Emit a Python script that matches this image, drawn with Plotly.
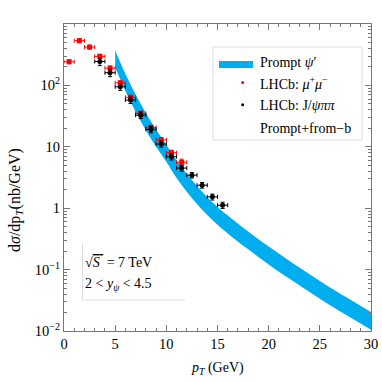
import plotly.graph_objects as go

# ---------------------------------------------------------------------------
# Data
# ---------------------------------------------------------------------------

# theory band (prompt psi'), upper / lower edges
band_pt = [5, 6, 7, 8, 9, 10, 11, 12, 13, 14, 15, 16, 18, 20, 22, 24, 26, 28, 30]
band_hi = [371, 155, 70.8, 35.5, 19.0, 10.8, 6.03, 3.63, 2.29, 1.51, 1.05, 0.759,
           0.417, 0.237, 0.140, 0.0841, 0.0513, 0.0324, 0.0204]
band_lo = [195, 81.3, 37.2, 18.6, 10.0, 5.69, 3.09, 1.86, 1.175, 0.776, 0.537, 0.389,
           0.214, 0.1216, 0.0716, 0.0432, 0.0263, 0.0166, 0.0105]

# LHCb mu+mu- (red)
mumu_pt = [0.5, 1.5, 2.5, 3.5, 4.5, 5.5, 6.5, 7.5, 8.5, 9.5, 10.5, 11.5]
mumu_val = [243, 535, 421, 297, 191, 110, 64, 35, 20.7, 12.9, 8.0, 5.6]
mumu_err = [18, 40, 30, 25, 16, 9, 5, 3, 1.8, 1.2, 0.8, 0.7]

# LHCb J/psi pi pi (black)
jpsi_pt = [3.5, 4.5, 5.5, 6.5, 7.5, 8.5, 9.5, 10.5, 11.5, 12.5, 13.5, 14.5, 15.5]
jpsi_val = [245, 161, 95, 57.7, 32.8, 19.2, 11.1, 6.9, 4.5, 3.45, 2.37, 1.53, 1.12]
jpsi_err = [35, 22, 12, 7, 4, 2.3, 1.3, 0.8, 0.5, 0.35, 0.25, 0.17, 0.13]
bin_half = 0.5

y_ticks = [0.01, 0.1, 1, 10, 100]
y_ticktext = ["10<sup>−2</sup>", "10<sup>−1</sup>", "1", "10", "10<sup>2</sup>"]

BLUE = "#00AEEF"
AXIS = "#777777"
FONT = "Liberation Serif, Times New Roman, serif"

# ---------------------------------------------------------------------------
# Figure
# ---------------------------------------------------------------------------

fig = go.Figure()

fig.add_trace(go.Scatter(x=band_pt, y=band_hi, mode="lines", line={"width": 0, "shape": "spline"},
                         showlegend=False, hoverinfo="skip"))
fig.add_trace(go.Scatter(x=band_pt, y=band_lo, mode="lines", line={"width": 0, "shape": "spline"},
                         fill="tonexty", fillcolor=BLUE, showlegend=False))

fig.add_trace(go.Scatter(
    x=mumu_pt, y=mumu_val, mode="markers", showlegend=False,
    marker={"color": "red", "size": 5, "symbol": "square"},
    error_x={"type": "constant", "value": bin_half, "color": "red", "thickness": 1, "width": 2},
    error_y={"type": "data", "array": mumu_err, "color": "red", "thickness": 1, "width": 2},
))
fig.add_trace(go.Scatter(
    x=jpsi_pt, y=jpsi_val, mode="markers", showlegend=False,
    marker={"color": "black", "size": 5},
    error_x={"type": "constant", "value": bin_half, "color": "black", "thickness": 1, "width": 2},
    error_y={"type": "data", "array": jpsi_err, "color": "black", "thickness": 1, "width": 2},
))

# minor ticks on the log axis
y_minor = [m * 10 ** e for e in range(-2, 3) for m in range(2, 10)]

fig.update_xaxes(
    range=[0, 30], tickvals=[0, 5, 10, 15, 20, 25, 30], automargin=False,
    ticks="inside", ticklen=6, tickcolor=AXIS, showline=True, linecolor=AXIS,
    mirror="allticks", showgrid=False, zeroline=False,
    minor={"tickvals": list(range(31)), "ticks": "inside", "ticklen": 3, "tickcolor": AXIS},
    tickfont={"size": 14.5},
)
fig.update_yaxes(
    type="log", range=[-2, 3], tickvals=y_ticks, ticktext=y_ticktext, automargin=False,
    ticks="inside", ticklen=6, tickcolor=AXIS, showline=True, linecolor=AXIS,
    mirror="allticks", showgrid=False, zeroline=False,
    minor={"tickvals": y_minor, "ticks": "inside", "ticklen": 3, "tickcolor": AXIS},
    tickfont={"size": 14.5},
)


# helpers map screen pixels to paper coords
def px(x):
    return (x - 64) / 307


def py(y):
    return (331 - y) / 307


shapes = [
    # legend frame
    dict(type="rect", xref="paper", yref="paper", x0=px(213), x1=px(362), y0=py(140), y1=py(47),
         line={"color": "#dddddd", "width": 1}, fillcolor="white"),
    dict(type="rect", xref="paper", yref="paper", x0=px(219), x1=px(253), y0=py(68), y1=py(61),
         line={"width": 0}, fillcolor=BLUE),
    dict(type="circle", xref="paper", yref="paper", x0=px(241.2), x1=px(244.2), y0=py(84), y1=py(81),
         line={"width": 0}, fillcolor="red"),
    dict(type="circle", xref="paper", yref="paper", x0=px(241.2), x1=px(244.2), y0=py(106.3), y1=py(103.3),
         line={"width": 0}, fillcolor="black"),
    # lower-left info box (left + bottom edges)
    dict(type="line", xref="paper", yref="paper", x0=px(82.5), x1=px(82.5), y0=py(243), y1=py(300),
         line={"color": "#dddddd", "width": 1}),
    dict(type="line", xref="paper", yref="paper", x0=px(82.5), x1=px(185), y0=py(300), y1=py(300),
         line={"color": "#dddddd", "width": 1}),
]

texts = [
    (258, 62, "Prompt <i>ψ</i>′"),
    (258, 83, "LHCb: <i>μ</i><sup>+</sup><i>μ</i><sup>−</sup>"),
    (258, 105, "LHCb: J/<i>ψππ</i>"),
    (258, 128, "Prompt+from−b"),
    (83, 262, "√<span style=\"text-decoration:overline\"><i>S</i> </span> = 7 TeV"),
    (83, 284, "2 &lt; <i>y<sub>ψ</sub></i> &lt; 4.5"),
]
annotations = [
    dict(x=px(x), y=py(y), xref="paper", yref="paper", text=t, showarrow=False,
         xanchor="left", yanchor="middle", font={"size": 14})
    for x, y, t in texts
]
# axis titles
annotations.append(dict(x=px(217.5), y=py(368), xref="paper", yref="paper",
                        text="<i>p<sub>T</sub></i> (GeV)", showarrow=False,
                        xanchor="center", yanchor="middle", font={"size": 14}))
annotations.append(dict(x=px(15), y=py(200), xref="paper", yref="paper",
                        text="d<i>σ</i>/dp<sub><i>T</i></sub>(nb/GeV)", showarrow=False,
                        textangle=-90, xanchor="center", yanchor="middle", font={"size": 16}))

fig.update_layout(
    width=382, height=382,
    margin={"l": 64, "r": 11, "t": 24, "b": 51},
    paper_bgcolor="white", plot_bgcolor="white",
    font={"family": FONT, "size": 15, "color": "black"},
    shapes=shapes, annotations=annotations,
    showlegend=False,
)

# drop the default 8px page margin so the figure fills the window
fig.write_html("out.html", config={"displayModeBar": False},
               post_script="document.body.style.margin='0';")
